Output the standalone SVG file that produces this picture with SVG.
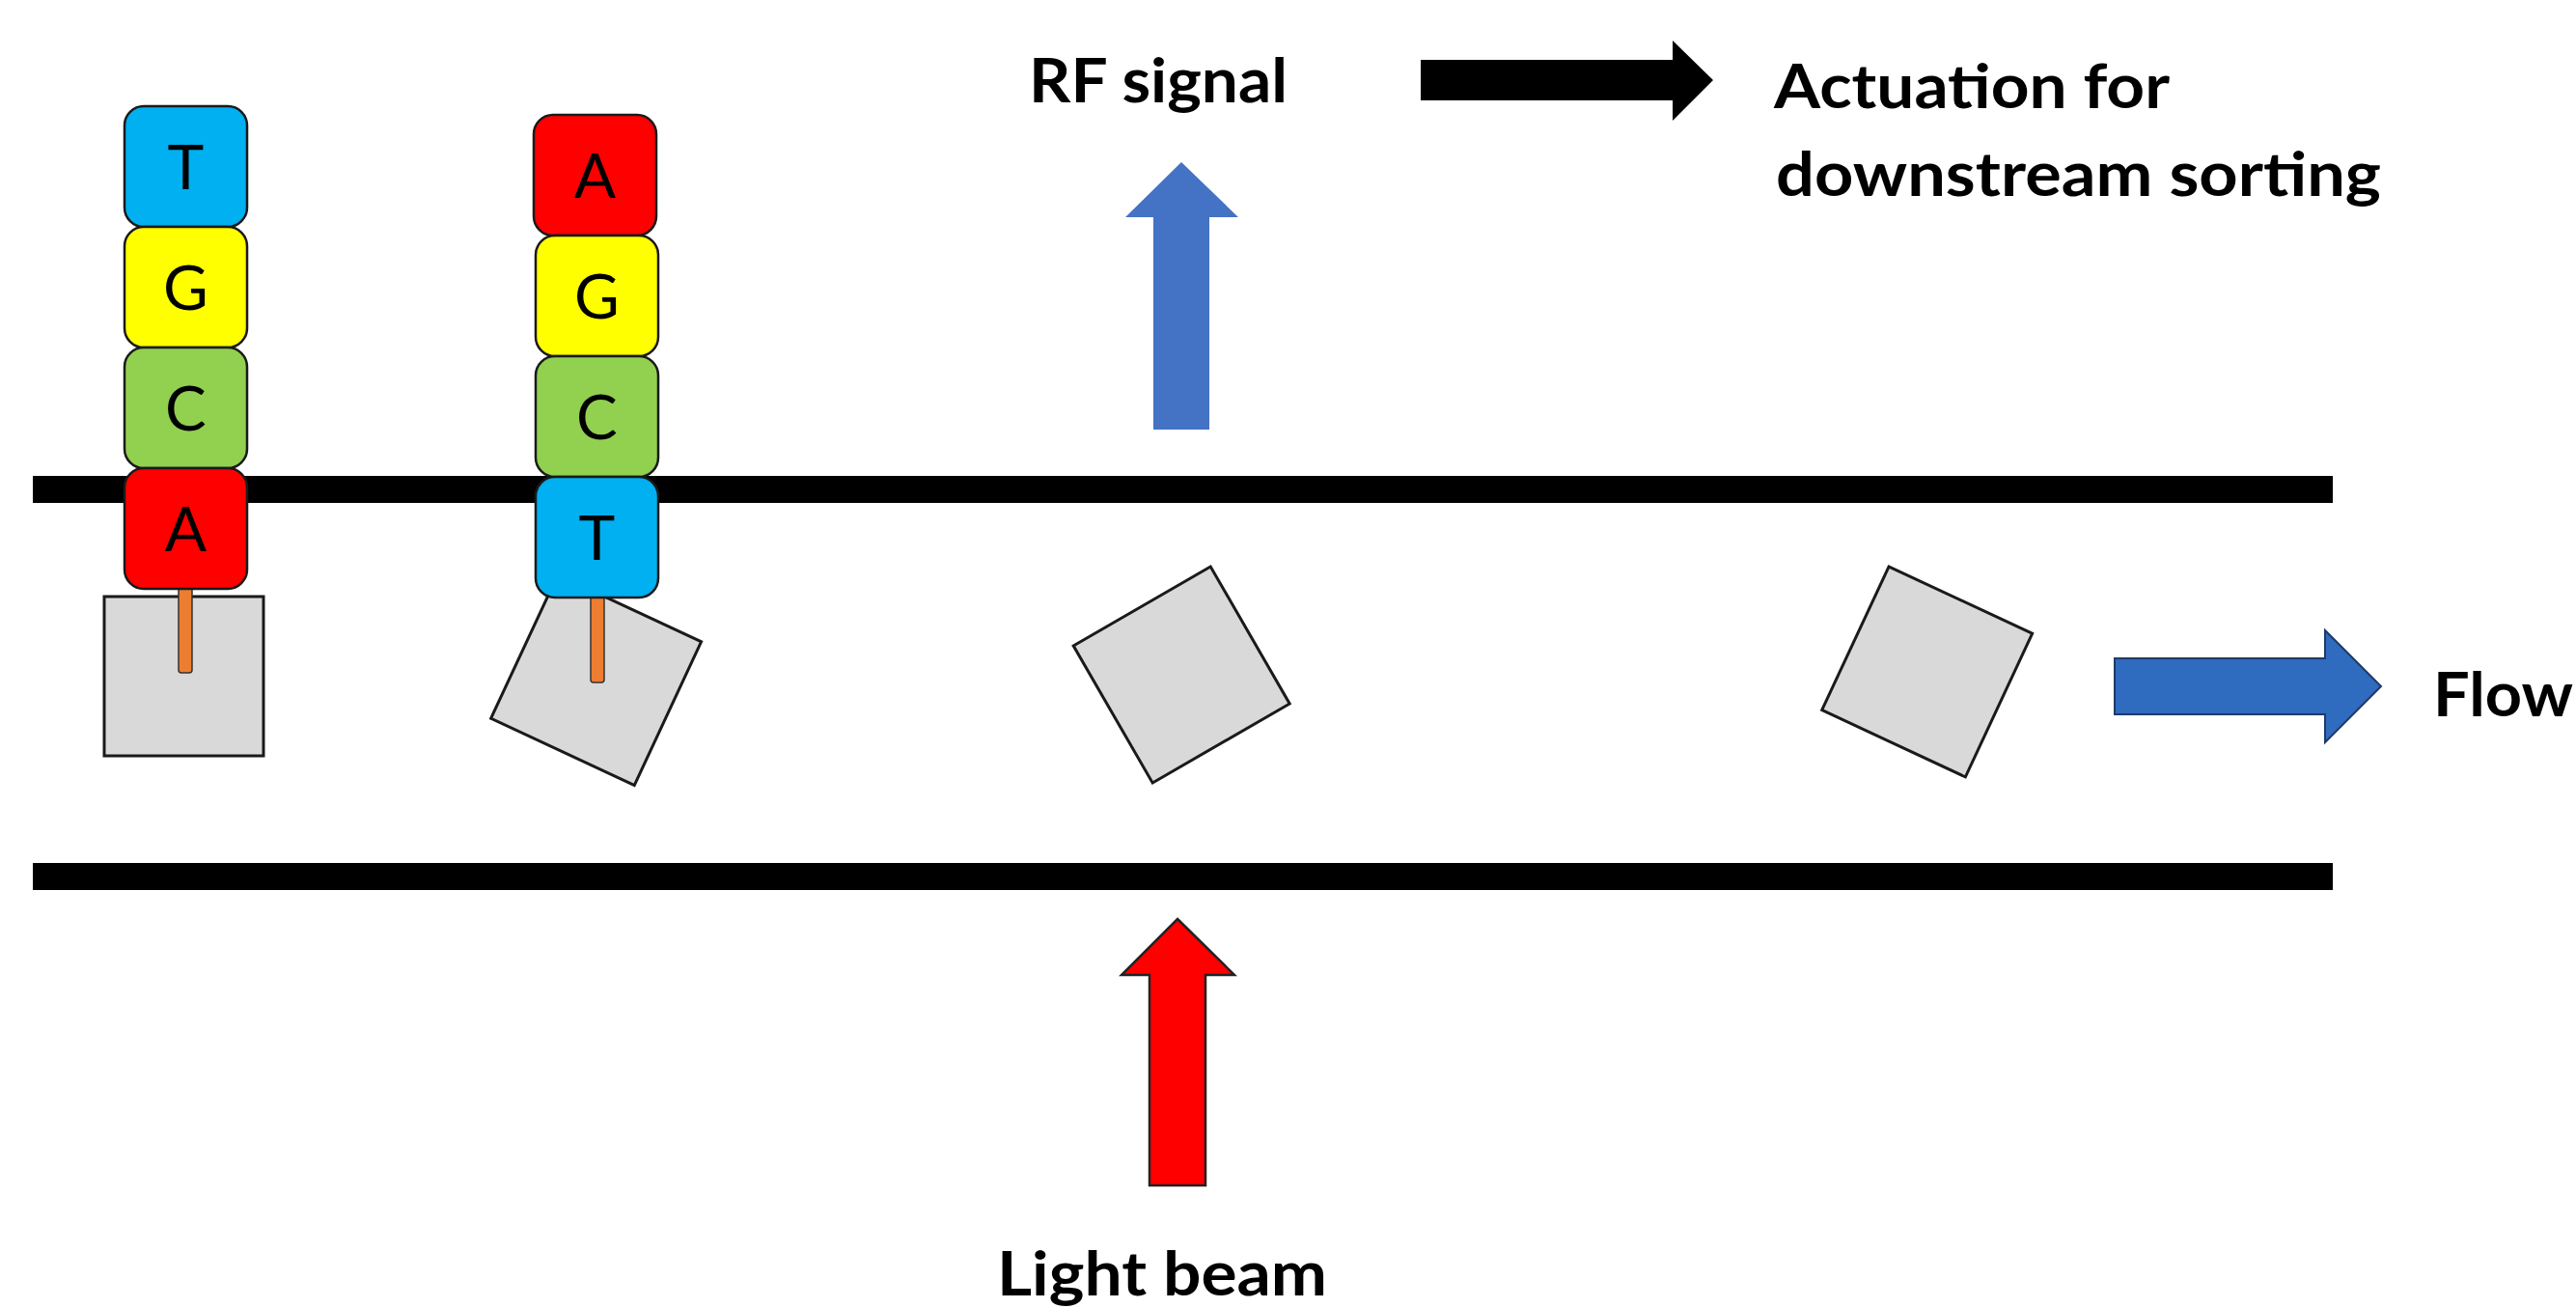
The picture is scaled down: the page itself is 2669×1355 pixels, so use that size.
<svg xmlns="http://www.w3.org/2000/svg" width="2669" height="1355" viewBox="0 0 2669 1355">
  <style>
    .base { stroke: #1a1a1a; stroke-width: 2.5; }
    .bT { fill: #00B0F0; }
    .bG { fill: #FFFF00; }
    .bC { fill: #92D050; }
    .bA { fill: #FF0000; }
    .nt { font-family: "Lato", "Liberation Sans", sans-serif; font-size: 64px; fill: #000; text-anchor: middle; }
    .bead { fill: #D9D9D9; stroke: #1a1a1a; stroke-width: 3; }
    .stick { fill: #ED7D31; stroke: #333; stroke-width: 1.5; }
    .wall { fill: #000; }
    .lbl { font-family: "Lato", "Liberation Sans", sans-serif; font-size: 64px; font-weight: bold; fill: #000; }
  </style>

  <!-- channel walls -->
  <g id="channel">
    <rect class="wall" x="34" y="493" width="2383" height="28"/>
    <rect class="wall" x="34" y="894" width="2383" height="28"/>
  </g>

  <!-- bead 1 with tag TGCA -->
  <g id="bead1">
    <rect class="bead" x="108" y="618" width="165" height="165"/>
    <rect class="stick" x="185" y="600" width="14" height="97" rx="3"/>
    <g id="strand1">
      <rect class="base bT" x="129" y="110" width="127" height="125" rx="20"/>
      <text class="nt" x="192.5" y="196">T</text>
      <rect class="base bG" x="129" y="235" width="127" height="125" rx="20"/>
      <text class="nt" x="192.5" y="321">G</text>
      <rect class="base bC" x="129" y="360" width="127" height="125" rx="20"/>
      <text class="nt" x="192.5" y="446">C</text>
      <rect class="base bA" x="129" y="485" width="127" height="125" rx="20"/>
      <text class="nt" x="192.5" y="571">A</text>
    </g>
  </g>

  <!-- bead 2 with tag AGCT -->
  <g id="bead2">
    <rect class="bead" x="535.6" y="622.5" width="164" height="164" transform="rotate(25 617.6 704.5)"/>
    <rect class="stick" x="612" y="610" width="14" height="97" rx="3"/>
    <g id="strand2">
      <rect class="base bA" x="553" y="119" width="127" height="125" rx="20"/>
      <text class="nt" x="616.5" y="205">A</text>
      <rect class="base bG" x="555" y="244" width="127" height="125" rx="20"/>
      <text class="nt" x="618.5" y="330">G</text>
      <rect class="base bC" x="555" y="369" width="127" height="125" rx="20"/>
      <text class="nt" x="618.5" y="455">C</text>
      <rect class="base bT" x="555" y="494" width="127" height="125" rx="20"/>
      <text class="nt" x="618.5" y="580">T</text>
    </g>
  </g>

  <!-- untagged beads -->
  <g id="bead3">
    <rect class="bead" x="1142.2" y="617" width="164" height="164" transform="rotate(-30 1224.2 699)"/>
  </g>
  <g id="bead4">
    <rect class="bead" x="1914.7" y="613.9" width="164" height="164" transform="rotate(25 1996.7 695.9)"/>
  </g>

  <!-- arrows -->
  <g id="connectors">
    <polygon id="rf-arrow" fill="#4472C4" points="1224,168 1283,225 1253,225 1253,445 1195,445 1195,225 1166,225"/>
    <polygon id="light-arrow" fill="#FF0000" stroke="#222" stroke-width="2.5" stroke-linejoin="miter" points="1220,952 1279,1010 1249,1010 1249,1228 1191,1228 1191,1010 1162,1010"/>
    <polygon id="actuation-arrow" fill="#000" points="1472,62 1733,62 1733,42 1775,83 1733,125 1733,104 1472,104"/>
    <polygon id="flow-arrow" fill="#2F6BBF" stroke="#1f3a66" stroke-width="2" points="2191,682 2409,682 2409,653 2467,711 2409,769 2409,740 2191,740"/>
  </g>

  <!-- labels -->
  <g id="labels">
    <text class="lbl" x="1066" y="106" textLength="268" lengthAdjust="spacingAndGlyphs">RF signal</text>
    <text class="lbl" x="1838" y="112" textLength="410" lengthAdjust="spacingAndGlyphs">Actuation for</text>
    <text class="lbl" x="1840" y="203" textLength="627" lengthAdjust="spacingAndGlyphs">downstream sorting</text>
    <text class="lbl" x="2521" y="742" textLength="145" lengthAdjust="spacingAndGlyphs">Flow</text>
    <text class="lbl" x="1033" y="1342" textLength="342" lengthAdjust="spacingAndGlyphs">Light beam</text>
  </g>
</svg>
